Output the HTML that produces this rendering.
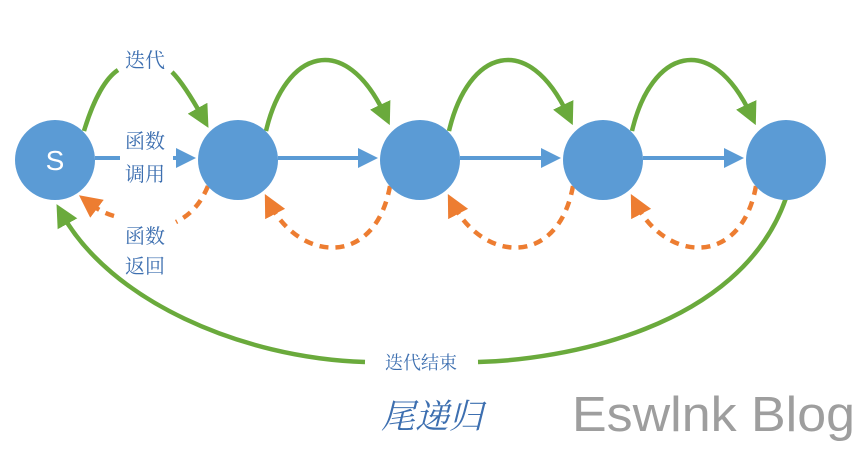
<!DOCTYPE html>
<html><head><meta charset="utf-8"><style>
html,body{margin:0;padding:0;background:#fff;width:867px;height:453px;overflow:hidden}
</style></head><body>
<svg width="867" height="453" viewBox="0 0 867 453" xmlns="http://www.w3.org/2000/svg">
<defs>
<marker id="g" viewBox="0 0 10 10" refX="5" refY="5" markerWidth="5" markerHeight="5" orient="auto"><path d="M0,0L10,5L0,10z" fill="#6aaa3c"/></marker>
<marker id="o" viewBox="0 0 10 10" refX="5" refY="5" markerWidth="5" markerHeight="5" orient="auto"><path d="M0,0L10,5L0,10z" fill="#ed7d31"/></marker>
<marker id="b" viewBox="0 0 10 10" refX="5" refY="5" markerWidth="5" markerHeight="5" orient="auto"><path d="M0,0L10,5L0,10z" fill="#5b9bd5"/></marker>
</defs>
<g stroke="#5b9bd5" stroke-width="4" fill="none">
<line x1="95" y1="158" x2="120" y2="158"/>
<line x1="173" y1="158" x2="186" y2="158" marker-end="url(#b)"/>
<line x1="278" y1="158" x2="368" y2="158" marker-end="url(#b)"/>
<line x1="460" y1="158" x2="551" y2="158" marker-end="url(#b)"/>
<line x1="643" y1="158" x2="734" y2="158" marker-end="url(#b)"/>
</g>
<g stroke="#6aaa3c" stroke-width="4.5" fill="none">
<path d="M84,131 C94,98 106,78 118,70"/>
<path d="M172,72 C182,82 193,100 203,118" marker-end="url(#g)"/>
<path d="M266,131 C285,50 345,30 385,115" marker-end="url(#g)"/>
<path d="M449,131 C468,50 528,30 568,115" marker-end="url(#g)"/>
<path d="M632,131 C651,50 711,30 751,115" marker-end="url(#g)"/>
<path d="M786,198 C740,330 560,360 478,362"/>
<path d="M365,362 C240,358 110,300 62,214" marker-end="url(#g)"/>
</g>
<g stroke="#ed7d31" stroke-width="4.5" fill="none" stroke-dasharray="9,7">
<path d="M208,186 C200,205 190,215 176,222"/>
<path d="M114,216 C100,212 92,205 88,202" marker-end="url(#o)"/>
<path d="M390,186 C375,268 300,262 270,204" marker-end="url(#o)"/>
<path d="M573,186 C558,268 483,262 453,204" marker-end="url(#o)"/>
<path d="M756,186 C741,268 666,262 636,204" marker-end="url(#o)"/>
</g>
<g fill="#5b9bd5">
<circle cx="55" cy="160" r="40"/><circle cx="238" cy="160" r="40"/><circle cx="420" cy="160" r="40"/><circle cx="603" cy="160" r="40"/><circle cx="786" cy="160" r="40"/>
</g>
<text x="55" y="170" font-family="Liberation Sans, sans-serif" font-size="28" fill="#fff" text-anchor="middle">S</text>
<g font-family="Liberation Serif, 'Noto Serif CJK SC', serif" font-size="20" fill="#3d6fb0" text-anchor="middle">
<text x="145" y="67">迭代</text>
<text x="145" y="148">函数</text>
<text x="145" y="181">调用</text>
<text x="145" y="243">函数</text>
<text x="145" y="273">返回</text>
<text x="421" y="369" font-size="18">迭代结束</text>
<text x="432" y="428" font-size="34" font-style="italic">尾递归</text>
</g>
<text x="572" y="431" font-family="Liberation Sans, sans-serif" font-size="49" fill="#9e9e9e" textLength="283" lengthAdjust="spacingAndGlyphs">Eswlnk Blog</text>
</svg>
</body></html>
